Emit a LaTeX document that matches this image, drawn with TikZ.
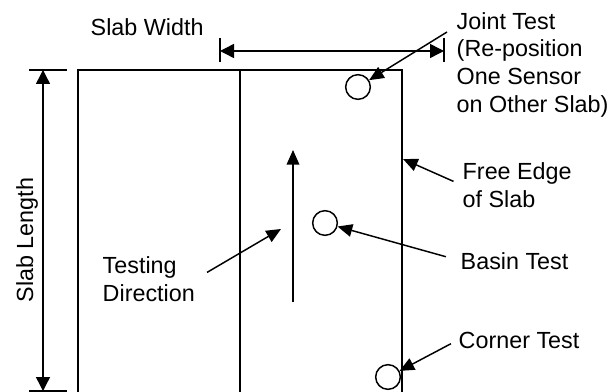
\documentclass[tikz,border=0pt]{standalone}
\usepackage{fontspec}
\setmainfont{Liberation Sans}
\usetikzlibrary{arrows.meta}

\tikzset{
  lbl/.style={inner sep=0pt,font=\fontsize{17.5}{20.8}\selectfont,align=left},
  sensor/.style={circle,draw,minimum size=18.5pt,inner sep=0pt},
  pointer/.style={-{Triangle[length=11pt,width=9.5pt]}},
  dimline/.style={{Triangle[length=10.5pt,width=10.5pt]}-{Triangle[length=10.5pt,width=10.5pt]}},
}

\begin{document}
\begin{tikzpicture}[x=0.75pt,y=-0.75pt,line width=1.1pt]
  \useasboundingbox (0,0) rectangle (610,392);
  % Slab outline (runs off the bottom)
  \draw (78,400) -- (78,70) -- (402,70) -- (402,400);
  \draw (240,70) -- (240,400);
  \coordinate (freeedge) at (403,159);

  % Slab length dimension
  \coordinate (len-top) at (43,70);
  \coordinate (len-bot) at (43,391);
  \draw (29,70) -- (67,70);
  \draw (29,391) -- (67,391);
  \draw[dimline] (len-top) -- (len-bot);
  \node[lbl,rotate=90,anchor=base] (slablen) at (33,240) {Slab Length};

  % Slab width dimension
  \coordinate (wid-l) at (220,51);
  \coordinate (wid-r) at (444,51);
  \draw (220,38) -- (220,62);
  \draw (444,38) -- (444,62);
  \draw[dimline] (wid-l) -- (wid-r);
  \node[lbl,anchor=base west] (slabwid) at (90,36) {Slab Width};

  % Sensors
  \node[sensor] (joint) at (358,87) {};
  \node[sensor] (basin) at (325,223) {};
  \node[sensor] (corner) at (388,377) {};

  % Testing direction
  \coordinate (dir-tail) at (293,302);
  \coordinate (dir-head) at (293,150);
  \draw[pointer] (dir-tail) -- (dir-head);
  \coordinate (dir-pt) at (281,229);

  % Labels
  \node[lbl,anchor=north west] (jointlbl) at (456,11.5)
    {Joint Test\\(Re-position\\One Sensor\\on Other Slab)};
  \node[lbl,anchor=north west] (freelbl) at (462,162) {Free Edge\\of Slab};
  \node[lbl,anchor=base west] (basinlbl) at (460,269) {Basin Test};
  \node[lbl,anchor=base west] (cornerlbl) at (458,348) {Corner Test};
  \node[lbl,anchor=north west] (dirlbl) at (102,256) {Testing\\Direction};

  % Pointers
  \coordinate (joint-tail) at (447,32);
  \draw[pointer] (joint-tail) -- (joint);
  \draw[pointer,shorten <=7pt] (freelbl.west) -- (freeedge);
  \draw[pointer,shorten <=11pt] (basinlbl.west) -- (basin);
  \draw[pointer,shorten <=6pt] (cornerlbl.west) -- (corner);
  \draw[pointer,shorten <=10pt] (dirlbl.east) -- (dir-pt);
\end{tikzpicture}
\end{document}
